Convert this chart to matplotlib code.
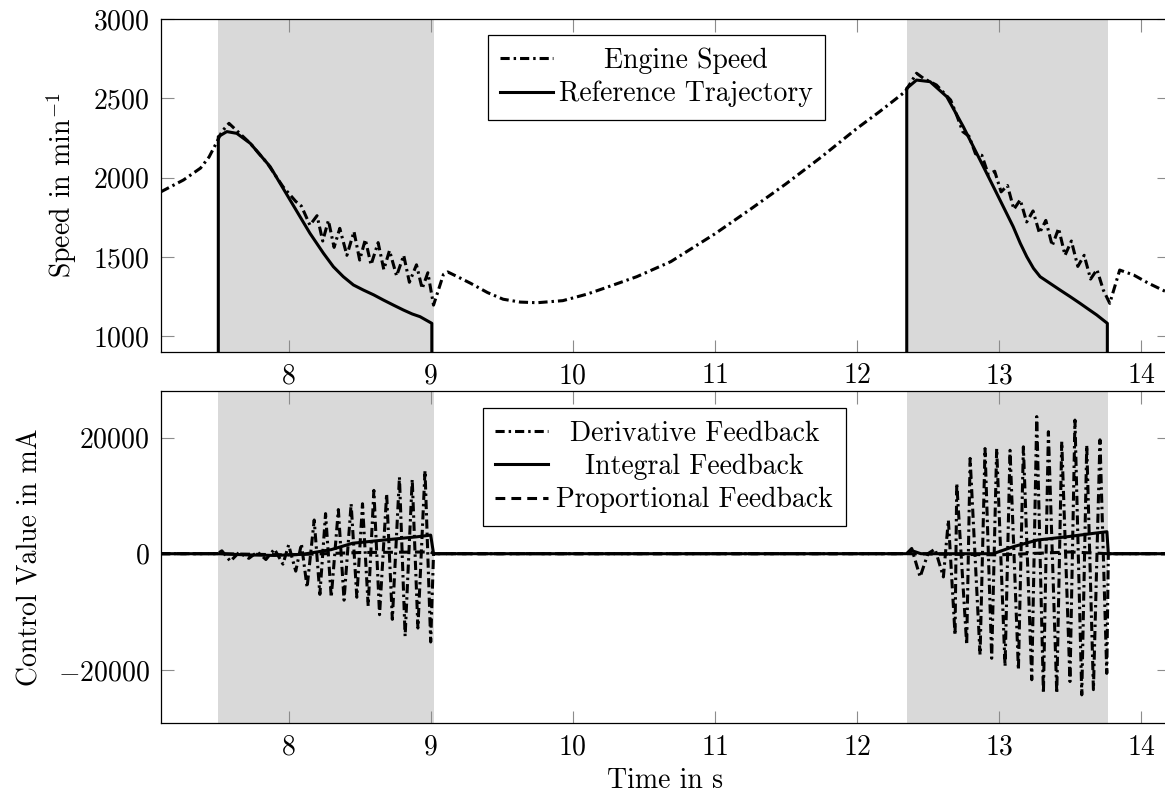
import matplotlib
matplotlib.use("Agg")
import matplotlib.pyplot as plt

plt.rcParams["font.family"] = "serif"
plt.rcParams["font.serif"] = ["cmr10", "DejaVu Serif"]
plt.rcParams["mathtext.fontset"] = "cm"
plt.rcParams["axes.formatter.use_mathtext"] = True
plt.rcParams["font.size"] = 20

# ---- data ------------------------------------------------------------------
WINDOWS = [(7.50, 9.02), (12.35, 13.77)]

t_engine = [7.10, 7.26, 7.38, 7.44, 7.49, 7.53, 7.58, 7.63, 7.73, 7.85, 7.96, 8.05,
            8.09, 8.15, 8.20, 8.24, 8.28, 8.32, 8.36, 8.41, 8.46, 8.50, 8.54, 8.58,
            8.63, 8.67, 8.71, 8.76, 8.81, 8.85, 8.90, 8.94, 8.98, 9.02,
            9.09, 9.12, 9.20, 9.28, 9.40, 9.51, 9.63, 9.75, 9.93, 10.10, 10.22,
            10.45, 10.69, 11.00, 11.25, 11.50, 11.75, 12.00, 12.16, 12.34, 12.42,
            12.47, 12.56, 12.66,
            12.70, 12.745, 12.79, 12.835, 12.88, 12.925, 12.97, 13.015, 13.06,
            13.105, 13.15, 13.195, 13.24, 13.285, 13.33, 13.375, 13.42, 13.465,
            13.51, 13.555, 13.60, 13.645, 13.69, 13.735, 13.78,
            13.85, 13.95, 14.05, 14.20]
v_engine = [1910, 1985, 2060, 2130, 2216, 2290, 2342, 2300, 2216, 2090, 1943, 1850,
            1820, 1700, 1760, 1600, 1730, 1560, 1680, 1510, 1660, 1480, 1610, 1450,
            1590, 1420, 1540, 1380, 1510, 1340, 1450, 1300, 1400, 1196,
            1390, 1405, 1370, 1334, 1275, 1233, 1215, 1211, 1224, 1265, 1302,
            1375, 1470, 1645, 1800, 1960, 2130, 2310, 2416, 2542, 2658,
            2625, 2584, 2489,
            2400, 2290, 2260, 2150, 2140, 2020, 2040, 1910, 1950,
            1800, 1860, 1720, 1790, 1650, 1730, 1570, 1680, 1510,
            1600, 1440, 1510, 1360, 1420, 1290, 1207,
            1417, 1385, 1335, 1270]

t_ref = [7.10, 7.505, 7.505, 7.565, 7.635, 7.73, 7.87, 8.01, 8.15, 8.245, 8.315,
         8.385, 8.456, 8.526, 8.60, 8.667, 8.74, 8.808, 8.87, 8.925, 9.008, 9.008,
         12.351, 12.351, 12.42, 12.515, 12.633, 12.749, 12.867, 12.984, 13.10,
         13.15, 13.196, 13.243, 13.29, 13.36, 13.43, 13.50, 13.571, 13.63, 13.688,
         13.763, 13.763, 14.20]
v_ref = [0, 0, 2258, 2290, 2279, 2216, 2069, 1859, 1649, 1523, 1438,
         1375, 1323, 1291, 1260, 1228, 1195, 1165, 1140, 1123, 1081, 0,
         0, 2563, 2615, 2605, 2510, 2321, 2111, 1901, 1691,
         1586, 1501, 1428, 1375, 1333, 1291, 1250, 1207, 1170, 1134,
         1081, 0, 0]

t_deriv = [7.10, 7.50, 7.53, 7.59, 7.65, 7.72, 7.78, 7.84, 7.90, 7.96, 8.00, 8.05,
           8.09, 8.13, 8.18, 8.22, 8.26, 8.30, 8.35, 8.39, 8.44, 8.48, 8.52, 8.56,
           8.60, 8.64, 8.69, 8.73, 8.78, 8.82, 8.87, 8.91, 8.96, 9.00, 9.02,
           12.35, 12.386, 12.445, 12.50, 12.55, 12.609, 12.644, 12.691, 12.703,
           12.773, 12.797, 12.867, 12.902, 12.949, 12.984, 13.043, 13.078, 13.137,
           13.172, 13.231, 13.266, 13.313, 13.348, 13.407, 13.442, 13.50, 13.535,
           13.583, 13.618, 13.665, 13.711, 13.759, 13.77, 14.20]
v_deriv = [0, 0, 500, -1300, 200, -800, 300, -1000, 800, -1800, 1500, -3000,
           1700, -5800, 5800, -7000, 6900, -7500, 7600, -8000, 8600, -7500, 8600, -9000,
           10900, -10500, 10300, -11300, 13200, -14200, 12800, -12800, 14300, -15200, 0,
           0, 900, -4000, 0, 800, -4000, 5800, -14000, 12100,
           -15700, 16400, -17400, 18100, -18000, 18100, -19400, 17800, -20000,
           18400, -21700, 23600, -24000, 21000, -24000, 19300, -22000, 23000,
           -24300, 18700, -23400, 19600, -20600, 0, 0]

t_integ = [7.10, 7.50, 7.70, 7.90, 8.10, 8.30, 8.45, 8.67, 8.90, 9.00, 9.02,
           12.35, 12.39, 12.45, 12.96, 13.10, 13.27, 13.48, 13.665, 13.76, 13.77, 14.20]
v_integ = [0, 0, -200, -300, -100, 700, 1800, 2350, 2900, 3200, 0,
           0, 500, 0, 0, 1200, 2350, 2920, 3500, 3780, 0, 0]

t_prop = [7.10, 7.50, 8.00, 8.50, 9.00, 9.02, 12.35, 13.00, 13.50, 13.77, 14.20]
v_prop = [0, 0, -200, 200, 300, 0, 0, -200, 300, 0, 0]

DASHDOT = (0, (3.0, 1.3, 0.8, 1.3))
DASHED = (0, (3.2, 2.0))
LW = 2.2


def style_axes(ax):
    for w0, w1 in WINDOWS:
        ax.axvspan(w0, w1, color="#d9d9d9", lw=0, zorder=0)
    ax.set_xlim(7.1, 14.2)
    ax.set_xticks([8, 9, 10, 11, 12, 13, 14])
    ax.tick_params(direction="in", top=True, right=True, length=9, width=0.8,
                   color="0.55", pad=8)
    for s in ax.spines.values():
        s.set_linewidth(0.9)


def center_legend_text(fig, leg):
    # pgfplots-style legend: shorter entries centred in the text column
    fig.canvas.draw()
    r = fig.canvas.get_renderer()
    texts = leg.get_texts()
    widths = [t.get_window_extent(r).width for t in texts]
    w = max(widths)
    for t, wi in zip(texts, widths):
        t.set_position(((w - wi) / 2, 0))


fig = plt.figure(figsize=(11.65, 7.99), dpi=100)
ax1 = fig.add_axes([0.138, 0.5594, 0.8658, 0.4168])
ax2 = fig.add_axes([0.138, 0.0947, 0.8658, 0.4159])

# ---- top: speed ----
style_axes(ax1)
ax1.plot(t_engine, v_engine, color="black", lw=LW, ls=DASHDOT, label="Engine Speed")
ax1.plot(t_ref, v_ref, color="black", lw=LW, label="Reference Trajectory")
ax1.set_ylim(900, 3000)
ax1.set_yticks([1000, 1500, 2000, 2500, 3000])
ax1.set_ylabel("Speed in min$^{-1}$", labelpad=10)
leg1 = ax1.legend(loc="upper center", bbox_to_anchor=(0.4915, 0.952), borderaxespad=0,
                  fancybox=False, edgecolor="black", framealpha=1, handlelength=1.9,
                  handletextpad=0.2, borderpad=0.45, labelspacing=0.25)
leg1.get_frame().set_linewidth(0.9)

# ---- bottom: control values ----
style_axes(ax2)
ax2.plot(t_deriv, v_deriv, color="black", lw=LW, ls=DASHDOT, label="Derivative Feedback")
ax2.plot(t_integ, v_integ, color="black", lw=LW, label="Integral Feedback")
ax2.plot(t_prop, v_prop, color="black", lw=LW, ls=DASHED, label="Proportional Feedback")
ax2.set_ylim(-29200, 28000)
ax2.set_yticks([-20000, 0, 20000])
ax2.set_ylabel("Control Value in mA", labelpad=10)
ax2.set_xlabel("Time in s", labelpad=5)
leg2 = ax2.legend(loc="upper center", bbox_to_anchor=(0.499, 0.949), borderaxespad=0,
                  fancybox=False, edgecolor="black", framealpha=1, handlelength=1.9,
                  handletextpad=0.3, borderpad=0.45, labelspacing=0.25)
leg2.get_frame().set_linewidth(0.9)

center_legend_text(fig, leg1)
center_legend_text(fig, leg2)

fig.savefig("out.png", dpi=100, facecolor="white")
